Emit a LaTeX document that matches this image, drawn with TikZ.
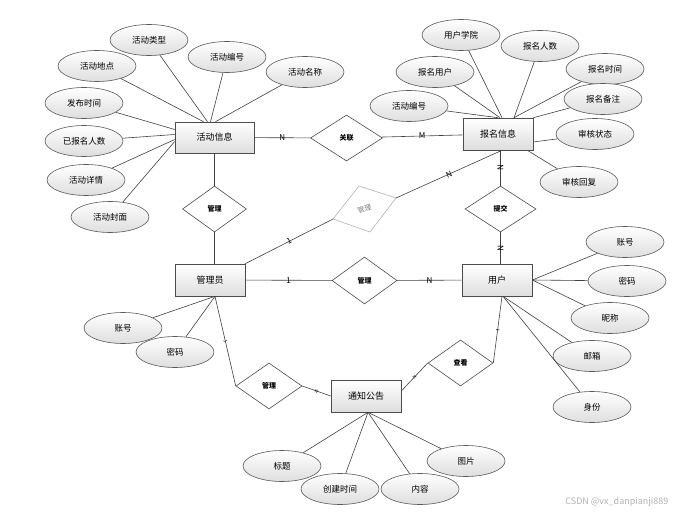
\documentclass[tikz,border=0pt]{standalone}
\usepackage{fontspec}
\newfontfamily\cjk{Noto Sans CJK SC}
\usetikzlibrary{shapes.geometric}

\begin{document}
\begin{tikzpicture}[x=1pt, y=-1pt, line width=.6pt, font=\cjk\fontsize{8.5}{9}\selectfont,
	attr/.style={ellipse, draw=black!65, top color=white, bottom color=black!13, minimum width=78pt, minimum height=31pt, inner sep=0pt},
	ent/.style={rectangle, draw=black!70, top color=white, bottom color=black!13, minimum width=70pt, minimum height=32pt, inner sep=0pt, font=\cjk\fontsize{9}{9}\selectfont},
	rel/.style={diamond, draw=black!70, fill=white, minimum width=66pt, minimum height=46pt, inner sep=0pt, font=\cjk\bfseries\fontsize{7}{7}\selectfont},
	lab/.style={inner sep=1pt, text=black, font=\cjk\fontsize{8}{8}\selectfont},
	tinylab/.style={inner sep=0pt, sloped, text=black, font=\cjk\fontsize{4.5}{4.5}\selectfont}]
	\useasboundingbox (0,0) rectangle (683,516);
	\node[ent, minimum width=79pt, minimum height=31pt] (hd) at (214.5,137.5) {活动信息};
	\node[ent] (bm) at (498,134) {报名信息};
	\node[ent] (gly) at (210,280) {管理员};
	\node[ent] (yh) at (497,280) {用户};
	\node[ent] (tz) at (366,396) {通知公告};
	\node[rel, minimum width=72pt] (gl) at (346.5,138) {关联};
	\node[rel, minimum width=64pt] (gl1) at (214.5,209) {管理};
	\node[rel, minimum width=71pt] (tj) at (500.5,209) {提交};
	\node[rel, minimum width=65pt, minimum height=47pt] (gl2) at (364.5,280.5) {管理};
	\node[rel] (gl3) at (269,386) {管理};
	\node[rel, minimum width=65pt] (ck) at (460.5,363) {查看};
	\coordinate (gL) at (333,219);
	\coordinate (gT) at (359,186);
	\coordinate (gR) at (396,198);
	\coordinate (gB) at (370,232);
	\draw[black!30, fill=white] (gL) -- (gT) -- (gR) -- (gB) -- cycle;
	\node[text=black!50, rotate=18, inner sep=0pt, font=\cjk\fontsize{7}{7}\selectfont] (gx) at (364.5,209) {管理};
	\draw[black!75] (hd) -- node[lab]{N} (gl);
	\draw[black!75] (gl) -- node[lab]{M} (bm);
	\draw[black!75] (hd) -- (gl1);
	\draw[black!75] (gl1) -- (gl1 |- gly.north);
	\draw[black!75] (tj) -- node[lab, sloped]{N} (tj |- bm.south);
	\draw[black!75] (tj) -- node[lab, sloped]{N} (tj |- yh.north);
	\draw[black!75] (gly) -- node[lab]{1} (gl2);
	\draw[black!75] (gl2) -- node[lab]{N} (yh);
	\draw[black!75] (gly.north east) -- node[lab, sloped]{1} (gL);
	\draw[black!75] (gR) -- node[lab, sloped]{N} ([xshift=4pt]bm.south);
	\draw[black!75] ([xshift=5pt]gly.south) -- node[tinylab]{1} (gl3.west);
	\draw[black!75] (gl3.east) -- node[tinylab]{N} (tz.west);
	\draw[black!75] ([yshift=5pt]tz.east) -- node[tinylab]{N} (ck.west);
	\draw[black!75] (ck.east) -- node[tinylab]{1} ([xshift=5pt]yh.south);
	\node[attr] (a1) at (149,40) {活动类型};
	\node[attr] (a2) at (227,57) {活动编号};
	\node[attr] (a3) at (305,72) {活动名称};
	\node[attr] (a4) at (97,66) {活动地点};
	\node[attr] (a5) at (84,103) {发布时间};
	\node[attr] (a6) at (84,141) {已报名人数};
	\node[attr] (a7) at (86,180) {活动详情};
	\node[attr] (a8) at (110,217) {活动封面};
	\draw[black!75] (a1) -- ([xshift=-7pt]hd.north);
	\draw[black!75] (a2) -- ([xshift=-4pt]hd.north);
	\draw[black!75] (a3) -- ([xshift=1pt]hd.north);
	\draw[black!75] (a4) -- ([xshift=-11pt]hd.north);
	\draw[black!75] (a5) -- ([yshift=8pt]hd.west);
	\draw[black!75] (a6) -- ([yshift=3pt]hd.west);
	\draw[black!75] (a7) -- ([yshift=-2pt]hd.west);
	\draw[black!75] (a8) -- ([yshift=-4pt]hd.west);
	\node[attr] (b1) at (461,35) {用户学院};
	\node[attr] (b2) at (540,46) {报名人数};
	\node[attr] (b3) at (435,72) {报名用户};
	\node[attr] (b4) at (605,69) {报名时间};
	\node[attr] (b5) at (409,106) {活动编号};
	\node[attr] (b6) at (603,99) {报名备注};
	\node[attr] (b7) at (595,134) {审核状态};
	\node[attr] (b8) at (579,182) {审核回复};
	\draw[black!75] (b1) -- ([xshift=4pt]bm.north);
	\draw[black!75] (b2) -- ([xshift=16pt]bm.north);
	\draw[black!75] (b3) -- ([xshift=2pt]bm.north);
	\draw[black!75] (b4) -- ([xshift=16pt]bm.north);
	\draw[black!75] (b5) -- (bm.north);
	\draw[black!75] (b6) -- (bm.north east);
	\draw[black!75] (b7) -- ([yshift=-8pt]bm.east);
	\draw[black!75] (b8) -- ([xshift=-6pt]bm.south east);
	\node[attr] (c1) at (625,242) {账号};
	\node[attr] (c2) at (627,281) {密码};
	\node[attr] (c3) at (610,318) {昵称};
	\node[attr] (c4) at (592,356) {邮箱};
	\node[attr] (c5) at (592,407) {身份};
	\draw[black!75] (c1) -- (yh.east);
	\draw[black!75] (c2) -- (yh.east);
	\draw[black!75] (c3) -- (yh.east);
	\draw[black!75] (c4) -- ([xshift=6pt]yh.south);
	\draw[black!75] (c5) -- ([xshift=6pt]yh.south);
	\node[attr] (d1) at (123,328) {账号};
	\node[attr] (d2) at (175,352) {密码};
	\draw[black!75] (d1) -- ([xshift=5pt]gly.south);
	\draw[black!75] (d2) -- ([xshift=5pt]gly.south);
	\node[attr] (e1) at (282,466) {标题};
	\node[attr] (e2) at (340,489) {创建时间};
	\node[attr] (e3) at (420,489) {内容};
	\node[attr] (e4) at (466,461) {图片};
	\draw[black!75] (e1) -- ([xshift=2pt]tz.south);
	\draw[black!75] (e2) -- ([xshift=2pt]tz.south);
	\draw[black!75] (e3) -- ([xshift=2pt]tz.south);
	\draw[black!75] (e4) -- ([xshift=2pt]tz.south);
	\node[anchor=east, text=black!30, font=\cjk\fontsize{9}{9}\selectfont] (wm) at (672,502) {CSDN @vx\_danpianji889};
\end{tikzpicture}
\end{document}
